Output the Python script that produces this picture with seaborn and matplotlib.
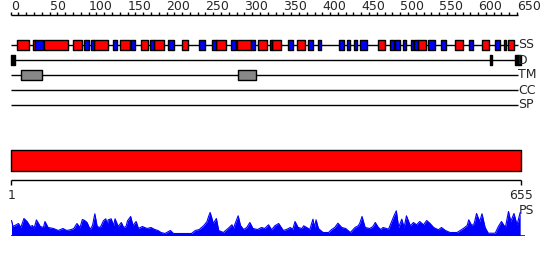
import matplotlib
matplotlib.use("Agg")
import matplotlib.pyplot as plt
import seaborn as sns
import pandas as pd

sns.set_style("white")
plt.rcParams["font.family"] = ["DejaVu Sans"]

SEQ_LEN = 655
TRACKS = ["SS", "D", "TM", "CC", "SP"]

# secondary structure segments (start, end) in residues
helix_segments = [(8, 23), (28, 31), (43, 74), (80, 91), (107, 125), (140, 153),
                  (167, 176), (184, 197), (220, 227), (263, 277), (291, 308),
                  (318, 329), (336, 347), (368, 378), (472, 481), (523, 533),
                  (570, 581), (605, 614), (638, 646)]
strand_segments = [(31, 41), (94, 100), (103, 107), (131, 137), (155, 160),
                   (179, 184), (202, 209), (242, 249), (259, 263), (283, 289),
                   (308, 314), (333, 336), (356, 363), (382, 388), (395, 398),
                   (422, 428), (432, 436), (441, 444), (448, 457), (487, 492),
                   (493, 500), (503, 508), (514, 517), (518, 523), (536, 545),
                   (553, 559), (588, 594), (622, 628), (633, 636)]
disorder_segments = [(0, 6), (615, 618), (647, 655)]
tm_segments = [(13, 40), (292, 315)]

# PS profile (residue, score)
ps_pos = [1, 3, 10, 13, 17, 21, 25, 28, 30, 33, 38, 42, 44, 48, 55, 61, 67, 72,
          78, 81, 85, 89, 92, 95, 98, 102, 105, 108, 111, 115, 119, 122, 124,
          125, 129, 132, 134, 138, 142, 145, 148, 150, 154, 157, 161, 164, 169,
          175, 180, 185, 189, 193, 198, 205, 209, 217, 226, 232, 237, 242, 245,
          248, 252, 254, 256, 258, 260, 264, 267, 273, 279, 284, 286, 288, 292,
          295, 299, 303, 307, 311, 317, 322, 326, 331, 335, 339, 344, 350, 354,
          359, 362, 365, 369, 374, 376, 380, 384, 388, 390, 392, 395, 401, 408,
          412, 416, 420, 425, 430, 436, 442, 446, 448, 451, 455, 461, 465, 468,
          472, 475, 478, 485, 489, 492, 495, 498, 502, 505, 508, 513, 517, 521,
          525, 530, 534, 538, 543, 549, 553, 558, 564, 573, 581, 586, 588, 592,
          595, 598, 602, 605, 609, 613, 622, 626, 630, 635, 639, 642, 646, 650,
          654]
ps_val = [15, 9, 12, 8, 17, 14, 9, 10, 7, 15.6, 9, 8, 14, 8, 7, 5, 7, 5,
          6, 7, 12, 8, 16, 15, 13, 6, 10, 21.7, 9, 8, 14.7, 16.7, 10,
          15.6, 16.7, 10, 16.7, 9, 13, 8, 9, 14.7, 19, 10, 14, 7, 9,
          7, 8, 6, 5, 3, 2, 5, 2, 2, 2, 2, 5, 6, 8,
          10, 14, 19, 23, 18, 12, 17, 5, 3, 7, 10.7, 7, 11.7, 19.7,
          10, 6, 8, 13, 7, 6, 8, 7, 10.7, 5.7, 9.7, 12, 5, 6,
          8, 6, 14, 8, 7, 9.7, 8, 6, 16.3, 8, 15.7, 7, 3, 3,
          6, 8, 12.3, 8, 7, 3, 8, 9.7, 12, 19, 8, 7, 9, 13,
          8, 6, 8, 6.3, 14, 19.7, 24.7, 8, 16.3, 8, 19.7, 9.7, 13, 10.7,
          14, 10.7, 15, 12.3, 8, 5.7, 8, 5, 3, 3, 7, 10, 15.7, 9.7,
          12, 22, 14, 21.7, 8, 2.3, 2.3, 9, 14, 8, 24, 14, 22, 10.7,
          23]

ruler_major = list(range(0, 651, 50))
ruler_minor = list(range(0, 651, 10))

W, H = 550, 260
px0, scale = 10.7, 0.779
fig = plt.figure(figsize=(W / 100, H / 100), dpi=100)
xl = (-px0 / scale, (W - px0) / scale)

ax = fig.add_axes([0, 0, 1, 1])
ax.set_xlim(*xl)
ax.set_ylim(H, 0)
ax.axis("off")

lw = 1.0
# top ruler
ax.hlines(15, 0, 651, color="black", lw=lw)
ax.vlines(ruler_minor, 11.5, 15, color="black", lw=lw)
for t in ruler_major:
    ax.text(t, 7, str(t), ha="left", va="center", fontsize=9)

row_y = {"SS": 45, "D": 60, "TM": 75, "CC": 90, "SP": 105}
for name in TRACKS:
    y = row_y[name]
    ax.hlines(y, 0, 651, color="black", lw=lw, zorder=1)
    ax.text(651.5, y, name, ha="left", va="center", fontsize=9)

def boxes(segs, y, color):
    ax.broken_barh([(s, e - s) for s, e in segs], (y - 5, 10),
                   facecolors=color, edgecolors="black", linewidth=1, zorder=2)

boxes(helix_segments, row_y["SS"], "#ff0000")
boxes(strand_segments, row_y["SS"], "#0000ff")
boxes(disorder_segments, row_y["D"], "black")
boxes(tm_segments, row_y["TM"], "#888888")

# full-length bar
ax.broken_barh([(1, SEQ_LEN - 1)], (150, 20.5), facecolors="#ff0000",
               edgecolors="black", linewidth=1)
ax.hlines(180, 1, SEQ_LEN, color="black", lw=lw)
ax.vlines([1, SEQ_LEN], 180, 185, color="black", lw=lw)
ax.text(1, 195.5, "1", ha="center", va="center", fontsize=9)
ax.text(SEQ_LEN, 195.5, str(SEQ_LEN), ha="center", va="center", fontsize=9)

# PS profile
ps_df = pd.DataFrame({"pos": ps_pos, "score": ps_val})
ax2 = fig.add_axes([0, (H - 235.5) / H, 1, 26 / H])
ax2.set_xlim(*xl)
ax2.set_ylim(0, 26)
ax2.axis("off")
ax2.fill_between(ps_df["pos"], 0, ps_df["score"], color="#0000ff", lw=0)
sns.lineplot(data=ps_df, x="pos", y="score", ax=ax2, color="#0000ff", lw=0.8)
ax2.hlines(0, 1, 660, color="#0000ff", lw=1.2)
ax.text(652.5, 210.5, "PS", ha="left", va="center", fontsize=9)

fig.savefig("out.png", dpi=100)
